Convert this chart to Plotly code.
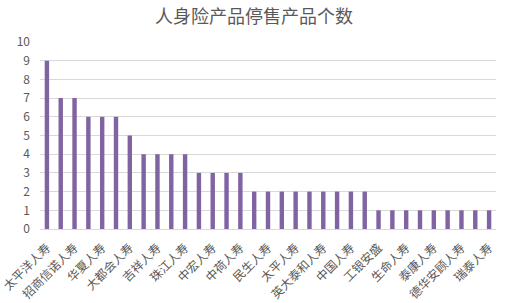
import plotly.graph_objects as go

title = "人身险产品停售产品个数"
companies = [
    "太平洋人寿", "新华人寿", "招商信诺人寿", "平安人寿", "华夏人寿", "人保寿险",
    "大都会人寿", "富德生命人寿", "吉祥人寿", "合众人寿", "珠江人寿", "光大永明人寿",
    "中宏人寿", "信泰人寿", "中荷人寿", "阳光人寿", "民生人寿", "天安人寿",
    "太平人寿", "百年人寿", "英大泰和人寿", "中英人寿", "中国人寿", "国华人寿",
    "工银安盛", "中意人寿", "生命人寿", "幸福人寿", "泰康人寿", "君龙人寿",
    "德华安顾人寿", "长城人寿", "瑞泰人寿",
]
counts = [9, 7, 7, 6, 6, 6, 5, 4, 4, 4, 4, 3, 3, 3, 3,
          2, 2, 2, 2, 2, 2, 2, 2, 2,
          1, 1, 1, 1, 1, 1, 1, 1, 1]
y_ticks = list(range(0, 11))

font_cjk = "Noto Sans CJK SC, Noto Sans, sans-serif"

fig = go.Figure(go.Bar(
    x=companies, y=counts,
    marker=dict(color="#8064A2", line=dict(width=0)),
))
fig.update_layout(
    width=508, height=303,
    margin=dict(l=40, r=12, t=42, b=74),
    paper_bgcolor="white", plot_bgcolor="white",
    bargap=0.68,
    showlegend=False,
    title=dict(text=title, x=0.5, xanchor="center", y=0.945, yanchor="middle",
               font=dict(family=font_cjk, size=18, color="#595959")),
    font=dict(family=font_cjk, color="#595959"),
)
fig.update_xaxes(
    type="category", automargin=False,
    tickmode="array", tickvals=companies[::2], ticktext=companies[::2],
    tickangle=-45, tickfont=dict(size=12, color="#595959"),
    ticklabelstandoff=6,
    showgrid=False, showline=True, linecolor="#d9d9d9", linewidth=1,
    ticks="",
)
fig.update_yaxes(
    range=[0, 10], tickmode="array", tickvals=y_ticks, automargin=False,
    tickfont=dict(size=12, color="#595959"),
    ticklabelstandoff=9,
    showgrid=True, gridcolor="#d9d9d9", gridwidth=1,
    zeroline=False, showline=False, ticks="", ticklen=0,
)
fig.write_html("out.html")
